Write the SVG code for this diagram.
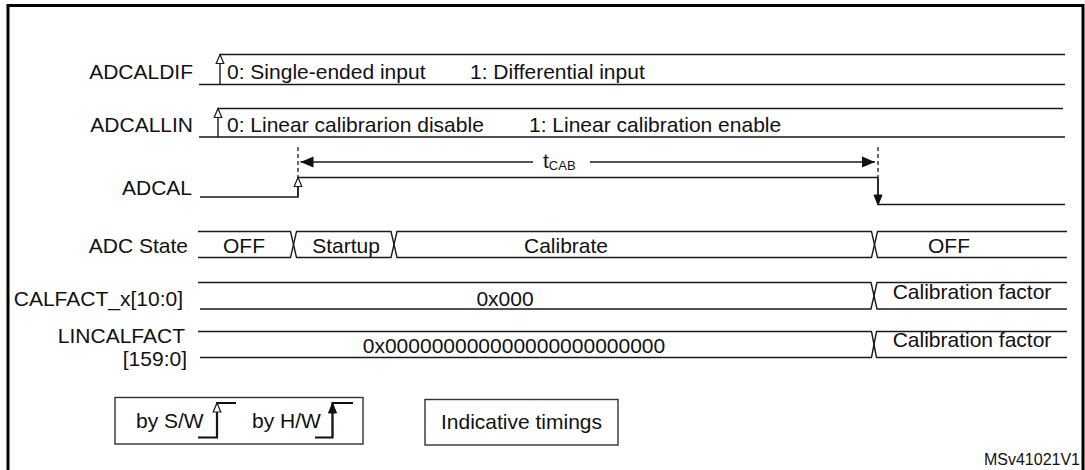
<svg xmlns="http://www.w3.org/2000/svg" width="1085" height="470" viewBox="0 0 1085 470">
<defs>
<style>
text{font-family:"Liberation Sans",Arial,sans-serif;font-size:21px;fill:#111}
.ln{stroke:#1a1a1a;stroke-width:1.4;fill:none}
.bold{stroke:#111;stroke-width:2.2;fill:none}
.dash{stroke:#1a1a1a;stroke-width:1.3;stroke-dasharray:4 3;fill:none}
.box{fill:#fff;stroke:#333;stroke-width:1.4}
.end{text-anchor:end}
.mid{text-anchor:middle}
</style>
<marker id="openArr" markerUnits="userSpaceOnUse" markerWidth="14" markerHeight="14" viewBox="-11 -7 14 14" refX="0" refY="0" orient="auto" overflow="visible">
<path d="M0,0 L-9,-3.8 L-9,3.8 Z" fill="#fff" stroke="#1a1a1a" stroke-width="1.2"/>
</marker>
<marker id="fillArr" markerUnits="userSpaceOnUse" markerWidth="14" markerHeight="14" viewBox="-11 -7 14 14" refX="0" refY="0" orient="auto" overflow="visible">
<path d="M0,0 L-10,-4 L-10,4 Z" fill="#111" stroke="#111" stroke-width="1"/>
</marker>
<marker id="bigArr" markerUnits="userSpaceOnUse" markerWidth="18" markerHeight="14" viewBox="-15 -7 18 14" refX="0" refY="0" orient="auto" overflow="visible">
<path d="M0,0 L-13,-5.5 L-13,5.5 Z" fill="#111"/>
</marker>
</defs>
<rect x="0" y="0" width="1085" height="470" fill="#fff"/>
<rect x="8" y="5.5" width="1075" height="480" fill="none" stroke="#000" stroke-width="3"/>

<g id="adcaldif">
<text class="end" x="193" y="79">ADCALDIF</text>
<path class="ln" d="M199,84.5 H1065 M220,54.5 H1065"/>
<path class="ln" d="M220,84.5 V54.5" marker-end="url(#openArr)"/>
<text x="227" y="79">0: Single-ended input</text>
<text x="470" y="79">1: Differential input</text>
</g>

<g id="adcallin">
<text class="end" x="193" y="132">ADCALLIN</text>
<path class="ln" d="M199,137 H1065 M218,108.5 H1063"/>
<path class="ln" d="M218,137 V108.5" marker-end="url(#openArr)"/>
<text x="227" y="132">0: Linear calibrarion disable</text>
<text x="529" y="132">1: Linear calibration enable</text>
</g>

<g id="adcal">
<text class="end" x="192" y="195">ADCAL</text>
<path class="ln" d="M200,197 H298 V177.5 H878 V204.5 H1065"/>
<path class="ln" d="M298,197 V177.5" marker-end="url(#openArr)"/>
<path class="ln" d="M878,177.5 V205" marker-end="url(#fillArr)"/>
</g>

<g id="adc-state">
<text class="end" x="188" y="253">ADC State</text>
<path class="ln" d="M198,231.5 H290.5 L296.5,257.5 H391 L397,231.5 H871.5 L877.5,257.5 H1067"/>
<path class="ln" d="M198,257.5 H290.5 L296.5,231.5 H391 L397,257.5 H871.5 L877.5,231.5 H1067"/>
<text class="mid" x="244" y="253">OFF</text>
<text class="mid" x="346" y="253">Startup</text>
<text class="mid" x="566" y="253">Calibrate</text>
<text class="mid" x="949" y="253">OFF</text>
</g>

<g id="calfact">
<text class="end" x="183" y="306">CALFACT_x[10:0]</text>
<path class="ln" d="M198,282.5 H871 L877,309 H1067"/>
<path class="ln" d="M200,309 H871 L877,282.5 H1067"/>
<text class="mid" x="505" y="306">0x000</text>
<text class="mid" x="972" y="299">Calibration factor</text>
</g>

<g id="lincalfact">
<text class="end" x="185" y="343">LINCALFACT</text>
<text class="end" x="187" y="366">[159:0]</text>
<path class="ln" d="M198,331.5 H871.5 L876.5,357.5 H1067"/>
<path class="ln" d="M200,357.5 H871.5 L876.5,331.5 H1067"/>
<text class="mid" x="514" y="353">0x000000000000000000000000</text>
<text class="mid" x="972" y="347">Calibration factor</text>
</g>

<g id="connectors">
<path class="dash" d="M298,147 V177"/>
<path class="dash" d="M878,147 V177"/>
<path class="ln" d="M533,162 H300.5" marker-end="url(#bigArr)"/>
<path class="ln" d="M590,162 H875" marker-end="url(#bigArr)"/>
<text x="543" y="168">t<tspan font-size="13" dy="1.5">CAB</tspan></text>
</g>

<g id="legend-sw-hw">
<rect class="box" x="115" y="397.5" width="248" height="46.5"/>
<text x="136" y="428">by S/W</text>
<path class="bold" d="M198,437.5 H217 V403 H236"/>
<path class="ln" d="M217,437 V403" stroke-width="2" marker-end="url(#openArr)"/>
<text x="252" y="428">by H/W</text>
<path class="bold" d="M315,437.5 H332.5 V403 H353"/>
<path class="ln" d="M332.5,437 V403" stroke-width="2" marker-end="url(#fillArr)"/>
</g>

<g id="legend-timings">
<rect class="box" x="425" y="399.5" width="193" height="45.5"/>
<text class="mid" x="521.5" y="429">Indicative timings</text>
</g>

<text class="end" x="1080" y="465" style="font-size:16px">MSv41021V1</text>
</svg>
